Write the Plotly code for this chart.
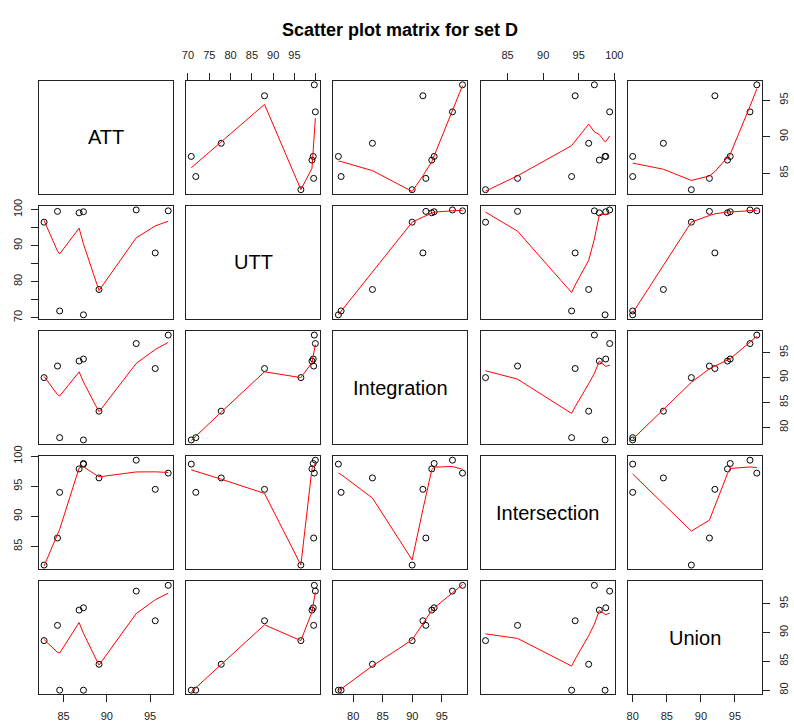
import numpy as np
import plotly.graph_objects as go

# ---------------- data ----------------
names = ["ATT", "UTT", "Integration", "Intersection", "Union"]
att = [82.75, 84.3, 84.55, 86.8, 87.3, 87.3, 89.1, 93.4, 95.6, 97.1]
utt = [96.5, 99.5, 71.83, 99.1, 70.76, 99.4, 77.8, 99.9, 87.96, 99.65]
integ = [89.98, 92.3, 77.96, 93.3, 77.5, 93.7, 83.26, 96.8, 91.8, 98.5]
inter = [81.9, 86.4, 94.0, 97.9, 98.7, 98.8, 96.4, 99.35, 94.5, 97.2]
union = [88.6, 91.25, 80.0, 93.9, 80.0, 94.3, 84.5, 97.2, 92.05, 98.2]
data = [att, utt, integ, inter, union]

ticks_att = [85, 90, 95]
ticks_utt = [70, 75, 80, 85, 90, 95, 100]
ticks_integ = [80, 85, 90, 95]
ticks_inter = [85, 90, 95, 100]
ticks_union = [80, 85, 90, 95]
tickvals = [ticks_att, ticks_utt, ticks_integ, ticks_inter, ticks_union]
# label text for horizontal (top/bottom) and vertical (left/right) axes
xlabels = [[str(v) for v in ticks_att],
           ["70", "75", "80", "85", "90", "95", ""],
           [str(v) for v in ticks_integ],
           [str(v) for v in ticks_inter],
           [str(v) for v in ticks_union]]
ylabels = [[str(v) for v in ticks_att],
           ["70", "", "80", "", "90", "", "100"],
           [str(v) for v in ticks_integ],
           [str(v) for v in ticks_inter],
           [str(v) for v in ticks_union]]


# ---------------- R's lowess (clowess port) ----------------
def lowess_r(xin, yin, f=2 / 3, nsteps=3):
    x = np.asarray(xin, float)
    y = np.asarray(yin, float)
    o = np.argsort(x, kind="stable")
    x = x[o]
    y = y[o]
    n = len(x)
    delta = 0.01 * (x.max() - x.min())
    X = np.concatenate([[0.0], x])
    Y = np.concatenate([[0.0], y])
    ys = np.zeros(n + 1)
    rw = np.ones(n + 1)
    ns = max(2, min(n, int(f * n + 1e-7)))

    def lowest(xs, nleft, nright, userw):
        w = np.zeros(n + 1)
        rng = X[n] - X[1]
        h = max(xs - X[nleft], X[nright] - xs)
        h9 = 0.999 * h
        h1 = 0.001 * h
        a = 0.0
        j = nleft
        while j <= n:
            w[j] = 0.0
            r = abs(X[j] - xs)
            if r <= h9:
                if r <= h1:
                    w[j] = 1.0
                else:
                    w[j] = (1 - (r / h) ** 3) ** 3
                if userw:
                    w[j] *= rw[j]
                a += w[j]
            elif X[j] > xs:
                break
            j += 1
        nrt = j - 1
        if a <= 0:
            return None
        for j in range(nleft, nrt + 1):
            w[j] /= a
        if h > 0:
            a = sum(w[j] * X[j] for j in range(nleft, nrt + 1))
            b = xs - a
            c = sum(w[j] * (X[j] - a) ** 2 for j in range(nleft, nrt + 1))
            if np.sqrt(c) > 0.001 * rng:
                b /= c
                for j in range(nleft, nrt + 1):
                    w[j] *= (b * (X[j] - a) + 1.0)
        return sum(w[j] * Y[j] for j in range(nleft, nrt + 1))

    it = 1
    while it <= nsteps + 1:
        nleft, nright, last, i = 1, ns, 0, 1
        while True:
            if nright < n:
                d1 = X[i] - X[nleft]
                d2 = X[nright + 1] - X[i]
                if d1 > d2:
                    nleft += 1
                    nright += 1
                    continue
            v = lowest(X[i], nleft, nright, it > 1)
            ys[i] = Y[i] if v is None else v
            if last < i - 1:
                denom = X[i] - X[last]
                for j in range(last + 1, i):
                    alpha = (X[j] - X[last]) / denom
                    ys[j] = alpha * ys[i] + (1 - alpha) * ys[last]
            last = i
            cut = X[last] + delta
            i = last + 1
            while i <= n:
                if X[i] > cut:
                    break
                if X[i] == X[last]:
                    ys[i] = ys[last]
                    last = i
                i += 1
            i = max(last + 1, i - 1)
            if last >= n:
                break
        resid = Y[1:] - ys[1:]
        sc = np.mean(np.abs(resid))
        if it > nsteps:
            break
        arr = np.sort(np.abs(resid))
        m1 = n // 2
        if n % 2 == 0:
            m2 = n - m1 - 1
            cmad = 3 * (arr[m1] + arr[m2])
        else:
            cmad = 6 * arr[m1]
        if sc < 1e-7 * cmad:
            break
        c9, c1 = 0.999 * cmad, 0.001 * cmad
        for k in range(n):
            r = abs(resid[k])
            if r <= c1:
                rw[k + 1] = 1.0
            elif r <= c9:
                rw[k + 1] = (1 - (r / cmad) ** 2) ** 2
            else:
                rw[k + 1] = 0.0
        it += 1
    return x, ys[1:]


# ---------------- layout geometry (pixels) ----------------
W, H = 794, 722
x0, cw, cp = 35.7, 136.3, 149.6
y0, rh, rp = 71.0, 115.5, 127.6


def xdom(j):
    a = x0 + j * cp
    return [a / W, (a + cw) / W]


def ydom(i):
    a = y0 + i * rp
    return [1 - (a + rh) / H, 1 - a / H]


def vrange(v):
    lo, hi = min(v), max(v)
    d = hi - lo
    return [lo - 0.04 * d, hi + 0.04 * d]


FONT = "Liberation Sans, Arial, Helvetica, sans-serif"
fig = go.Figure()
layout = dict(width=W, height=H, margin=dict(l=0, r=0, t=0, b=0),
              paper_bgcolor="white", plot_bgcolor="white",
              showlegend=False, font=dict(family=FONT, size=11, color="#222"))
annotations = []

for i in range(5):
    for j in range(5):
        k = i * 5 + j + 1
        sfx = "" if k == 1 else str(k)
        xa = dict(domain=xdom(j), range=vrange(data[j]), anchor="y" + sfx,
                  showline=True, mirror=True, linecolor="#222", linewidth=1,
                  showgrid=False, zeroline=False, ticks="", showticklabels=False,
                  fixedrange=True)
        ya = dict(domain=ydom(i), range=vrange(data[i]), anchor="x" + sfx,
                  showline=True, mirror=True, linecolor="#222", linewidth=1,
                  showgrid=False, zeroline=False, ticks="", showticklabels=False,
                  fixedrange=True)
        if (i == 0 and j % 2 == 1) or (i == 4 and j % 2 == 0):
            xa.update(side="top" if i == 0 else "bottom", ticks="outside",
                      ticklen=7, tickcolor="#222", showticklabels=True,
                      tickmode="array", tickvals=tickvals[j], ticktext=xlabels[j],
                      ticklabelstandoff=9 if i == 0 else 4)
        if (j == 0 and i % 2 == 1) or (j == 4 and i % 2 == 0):
            ya.update(side="left" if j == 0 else "right", ticks="outside",
                      ticklen=7, tickcolor="#222", showticklabels=True,
                      tickmode="array", tickvals=tickvals[i], ticktext=ylabels[i],
                      tickangle=-90, ticklabelstandoff=5)
        layout["xaxis" + sfx] = xa
        layout["yaxis" + sfx] = ya

        if i == j:
            xd, yd = xdom(j), ydom(i)
            annotations.append(dict(
                x=(xd[0] + xd[1]) / 2, y=(yd[0] + yd[1]) / 2, xref="paper", yref="paper",
                text=names[i], showarrow=False, xanchor="center", yanchor="middle",
                font=dict(family=FONT, size=20, color="black")))
            # invisible trace so that the panel frame and axes are drawn
            fig.add_trace(go.Scatter(
                x=[np.mean(data[j])], y=[np.mean(data[i])], mode="markers",
                xaxis="x" + sfx, yaxis="y" + sfx, opacity=0,
                marker=dict(size=1), hoverinfo="skip"))
        else:
            fig.add_trace(go.Scatter(
                x=data[j], y=data[i], mode="markers", xaxis="x" + sfx, yaxis="y" + sfx,
                marker=dict(symbol="circle-open", size=6, color="black",
                            line=dict(width=1, color="black")),
                hoverinfo="skip"))
            lx, ly = lowess_r(data[j], data[i])
            fig.add_trace(go.Scatter(
                x=lx, y=ly, mode="lines", xaxis="x" + sfx, yaxis="y" + sfx,
                line=dict(color="red", width=1), hoverinfo="skip"))

annotations.append(dict(
    x=403 / W, y=1 - 19 / H, xref="paper", yref="paper",
    text="<b>Scatter plot matrix for set D</b>", showarrow=False,
    xanchor="center", yanchor="middle",
    font=dict(family=FONT, size=18, color="black")))
layout["annotations"] = annotations
fig.update_layout(**layout)
fig.write_html("out.html")
